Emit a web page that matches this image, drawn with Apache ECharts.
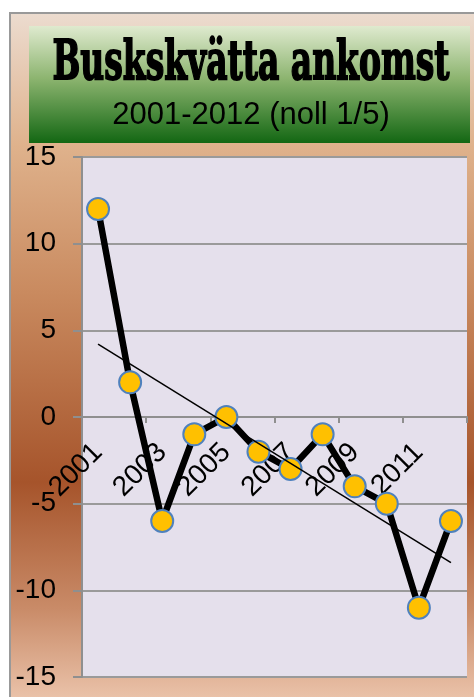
<!DOCTYPE html>
<html>
<head>
<meta charset="utf-8">
<script src="https://cdn.jsdelivr.net/npm/echarts@6/dist/echarts.min.js"></script>
<style>html,body{margin:0;padding:0;background:#fff;}#c{width:474px;height:697px;}</style>
</head>
<body>
<div id="c"></div>
<script>
var titleText = 'Buskskvätta ankomst';
var subtitleText = '2001-2012 (noll 1/5)';
var years = ['2001','2002','2003','2004','2005','2006','2007','2008','2009','2010','2011','2012'];
var arrival = [12, 2, -6, -1, 0, -2, -3, -1, -4, -5, -11, -6];
var trend = [4.2, null, null, null, null, null, null, null, null, null, null, -8.4];
var yTicks = {min: -15, max: 15, interval: 5};

var cv = document.createElement('canvas').getContext('2d');
cv.font = 'bold 53px "DejaVu Serif"';
var tw = cv.measureText(titleText).width;
var titleScale = 397 / tw;

var gridTop = 157, gridBottom = 20, H = 697;
var plotH = H - gridTop - gridBottom;
var zeroOffset = -plotH * (0 - yTicks.min) / (yTicks.max - yTicks.min);

var chart = echarts.init(document.getElementById('c'), null, {renderer: 'canvas'});
chart.setOption({
  animation: false,
  backgroundColor: '#ffffff',
  graphic: [
    {type: 'rect', z: -10, shape: {x: 10, y: 13, width: 480, height: 700},
     style: {fill: new echarts.graphic.LinearGradient(0, 0, 0, 1, [
       {offset: 0, color: '#ecdcd0'},
       {offset: 0.19, color: '#dfb28c'},
       {offset: 0.4, color: '#c98a5f'},
       {offset: 0.67, color: '#a6542b'},
       {offset: 0.85, color: '#c98b68'},
       {offset: 1, color: '#f0ccb5'}
     ]), stroke: '#999999', lineWidth: 2}},
    {type: 'rect', z: -5, shape: {x: 29, y: 26, width: 441, height: 117},
     style: {fill: new echarts.graphic.LinearGradient(0, 0, 0, 1, [
       {offset: 0, color: '#dfeacf'},
       {offset: 0.45, color: '#8cb46f'},
       {offset: 1, color: '#136713'}
     ])}},
    {type: 'text', z: 10, x: 251, y: 92, scaleX: titleScale, scaleY: 1.03,
     style: {text: titleText, x: 0, y: 0, textAlign: 'center', textVerticalAlign: 'bottom',
       font: 'bold 53px "DejaVu Serif"', fill: '#000', stroke: '#000', lineWidth: 1.8}},
    {type: 'text', z: 10, x: 251, y: 115,
     style: {text: subtitleText, x: 0, y: 0, textAlign: 'center', textVerticalAlign: 'middle',
       font: '31px "Liberation Sans"', fill: '#000'}}
  ],
  grid: {left: 82, right: 7, top: gridTop, bottom: gridBottom, show: true, backgroundColor: '#e5e0ec', borderWidth: 0,
         outerBoundsMode: 'none', containLabel: false},
  xAxis: {
    type: 'category', data: years, boundaryGap: true, position: 'bottom', offset: zeroOffset,
    axisLine: {onZero: false, lineStyle: {color: '#8f8f8f', width: 2}},
    axisTick: {show: true, interval: 1, length: 6, lineStyle: {color: '#8f8f8f', width: 2}},
    axisLabel: {interval: 1, rotate: 45, fontSize: 28, color: '#000', fontFamily: 'Liberation Sans', margin: 31, hideOverlap: false},
    splitLine: {show: false}
  },
  yAxis: {
    type: 'value', min: yTicks.min, max: yTicks.max, interval: yTicks.interval,
    axisLine: {show: true, lineStyle: {color: '#8f8f8f', width: 2}},
    axisTick: {show: true, length: 9, lineStyle: {color: '#8f8f8f', width: 2}},
    axisLabel: {fontSize: 28, color: '#000', fontFamily: 'Liberation Sans', margin: 26},
    splitLine: {show: true, lineStyle: {color: '#9a9a9a', width: 2}}
  },
  series: [
    {type: 'line', data: arrival, z: 3, showSymbol: true, showAllSymbol: true,
     lineStyle: {color: '#000', width: 6.5},
     symbol: 'circle', symbolSize: 22,
     itemStyle: {color: '#FFC000', borderColor: '#4F81BD', borderWidth: 2}},
    {type: 'line', data: trend, connectNulls: true, z: 4, symbol: 'none',
     lineStyle: {color: '#000', width: 1.5}}
  ]
});
</script>
</body>
</html>
